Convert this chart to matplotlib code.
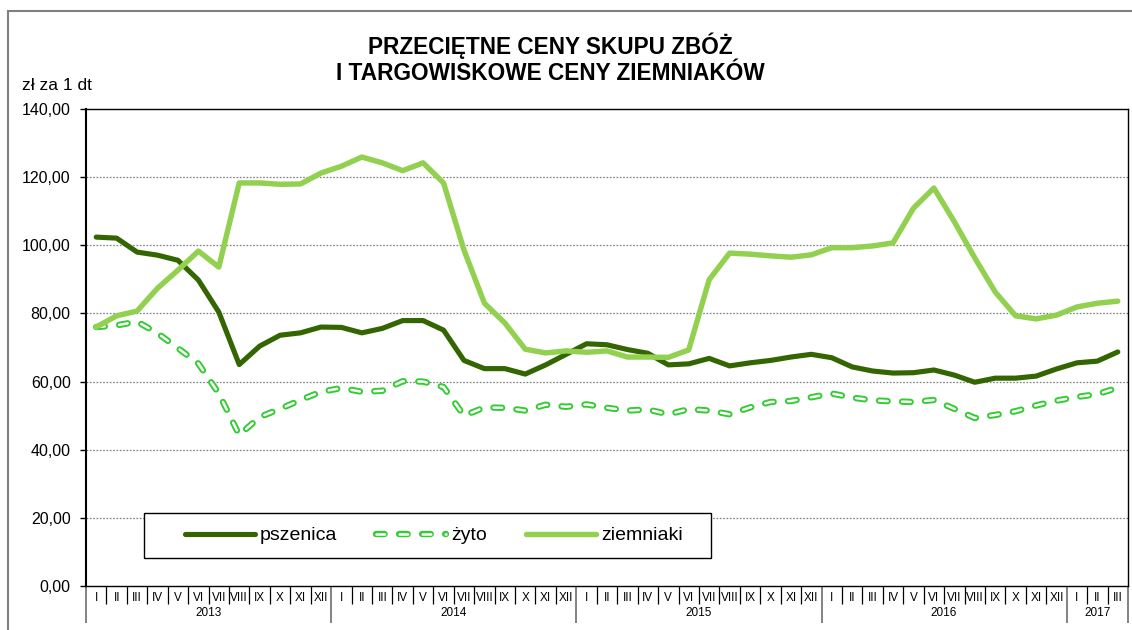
import matplotlib
matplotlib.use("Agg")
import matplotlib.pyplot as plt
from matplotlib.patches import Rectangle
from matplotlib.lines import Line2D
import numpy as np

plt.rcParams['font.family'] = ['Liberation Sans', 'DejaVu Sans']
plt.rcParams['lines.scale_dashes'] = False

months = ["I", "II", "III", "IV", "V", "VI", "VII", "VIII", "IX", "X", "XI", "XII"]
years = ["2013", "2014", "2015", "2016", "2017"]
months_per_year = [12, 12, 12, 12, 3]

pszenica = [102.4, 102.1, 98.0, 97.1, 95.6, 89.8, 80.4, 65.0, 70.4, 73.6, 74.3, 76.0,
            75.9, 74.3, 75.6, 77.9, 77.9, 75.1, 66.2, 63.8, 63.8, 62.2, 64.9, 68.0,
            71.1, 70.8, 69.4, 68.3, 64.9, 65.2, 66.8, 64.6, 65.5, 66.2, 67.2, 68.0,
            67.0, 64.3, 63.1, 62.5, 62.6, 63.4, 61.9, 59.8, 61.0, 61.0, 61.6, 63.7,
            65.5, 66.0, 68.7]
zyto = [76.0, 76.5, 77.6, 74.2, 69.8, 65.3, 56.5, 44.3, 49.6, 52.0, 54.6, 57.0,
        58.1, 57.0, 57.3, 60.1, 60.0, 58.4, 50.0, 52.4, 52.3, 51.5, 53.2, 52.6,
        53.3, 52.3, 51.5, 51.8, 50.4, 51.9, 51.5, 50.4, 52.4, 54.0, 54.3, 55.4,
        56.5, 55.3, 54.5, 54.2, 54.0, 54.6, 52.0, 49.3, 50.2, 51.3, 53.0, 54.4,
        55.5, 56.3, 58.2]
ziemniaki = [76.0, 79.3, 80.7, 87.4, 92.7, 98.3, 93.6, 118.3, 118.3, 117.9, 118.0, 121.2,
             123.2, 125.9, 124.2, 121.9, 124.2, 118.3, 98.6, 83.0, 77.2, 69.5, 68.4, 69.0,
             68.6, 69.0, 67.2, 67.2, 67.1, 69.3, 89.9, 97.7, 97.4, 96.9, 96.5, 97.2,
             99.3, 99.3, 99.8, 100.7, 110.9, 116.8, 106.9, 96.3, 86.3, 79.3, 78.4, 79.5,
             81.9, 83.0, 83.6]

c_psz = "#336600"
c_zyto = "#33CC33"
c_ziem = "#92D050"

fig = plt.figure(figsize=(11.32, 6.3), dpi=100)
ax = fig.add_axes([86 / 1132, 44 / 630, 1042 / 1132, 477 / 630])

# outer frame of the chart object
fig.patches.append(Rectangle((8 / 1132, -0.1), 1.2, 1.1 - 11 / 630, transform=fig.transFigure,
                             fill=False, edgecolor="#808080", lw=1.5, zorder=0))

x = np.arange(len(pszenica))
ax.set_xlim(-0.5, len(x) - 0.5)
ax.set_ylim(0, 140)

for yv in range(20, 140, 20):
    ax.axhline(yv, color="#7f7f7f", lw=0.9, ls=(0, (1.2, 1.2)), zorder=1)

dash = (0, (6.2, 10.4))
ax.plot(x, pszenica, color=c_psz, lw=3.7, solid_joinstyle="round", solid_capstyle="round", zorder=4)
ax.plot(x, zyto, color=c_zyto, lw=4.6, ls=dash, dash_capstyle="round", zorder=3)
ax.plot(x, zyto, color="white", lw=1.8, ls=dash, dash_capstyle="round", zorder=3)
ax.plot(x, ziemniaki, color=c_ziem, lw=3.9, solid_joinstyle="round", solid_capstyle="round", zorder=5)

# y axis
ax.set_yticks(range(0, 141, 20))
ax.set_yticklabels([f"{v:.2f}".replace(".", ",") for v in range(0, 141, 20)])
ax.tick_params(axis="y", direction="out", length=4, width=1, pad=7, labelsize=11.5)
for s in ax.spines.values():
    s.set_color("black")
    s.set_linewidth(1.0)
ax.spines["left"].set_linewidth(1.5)

# x axis: month and year separators
bounds = list(np.arange(-0.5, len(x), 1.0))
year_bounds = [-0.5]
for n in months_per_year:
    year_bounds.append(year_bounds[-1] + n)
ax.set_xticks(year_bounds)
ax.set_xticks(bounds, minor=True)
ax.tick_params(axis="x", which="major", direction="out", length=26.5, width=1.1, color="#606060", labelbottom=False)
ax.tick_params(axis="x", which="minor", direction="out", length=13, width=0.9, color="black", labelbottom=False)

i = 0
for yr, n in zip(years, months_per_year):
    for m in months[:n]:
        ax.annotate(m, xy=(i, 0), xycoords=("data", "axes fraction"), xytext=(0, -8.5),
                    textcoords="offset points", ha="center", va="center", fontsize=8.5)
        i += 1
    ax.annotate(yr, xy=(i - n / 2 - 0.5, 0), xycoords=("data", "axes fraction"), xytext=(0, -19.5),
                textcoords="offset points", ha="center", va="center", fontsize=8.5)

fig.text(550 / 1132, 1 - 58.5 / 630, "PRZECIĘTNE CENY SKUPU ZBÓŻ\nI TARGOWISKOWE CENY ZIEMNIAKÓW",
         ha="center", va="center", fontsize=16.3, fontweight="bold", linespacing=1.19)
fig.text(22 / 1132, 1 - 85 / 630, "zł za 1 dt", ha="left", va="center", fontsize=12.5)

# legend box drawn by hand, entries placed inside it
ax.add_patch(Rectangle((58 / 1042, 28 / 477), 567 / 1042, 45 / 477, transform=ax.transAxes,
                       facecolor="white", edgecolor="black", lw=1.0, zorder=9))
h1 = Line2D([], [], color=c_psz, lw=3.7, solid_capstyle="round")
h2a = Line2D([], [], color=c_zyto, lw=4.6, ls=dash, dash_capstyle="round")
h2b = Line2D([], [], color="white", lw=1.8, ls=dash, dash_capstyle="round")
h3 = Line2D([], [], color=c_ziem, lw=3.9, solid_capstyle="round")
leg = ax.legend([h1, (h2a, h2b), h3], ["pszenica", "żyto", "ziemniaki"], ncol=3,
                loc="center left", bbox_to_anchor=(99 / 1042, 50.5 / 477),
                fontsize=14, handlelength=3.6, handletextpad=0.26, columnspacing=2.0,
                frameon=False, borderpad=0, borderaxespad=0)
leg.set_zorder(10)

fig.savefig("out.png", dpi=100)
